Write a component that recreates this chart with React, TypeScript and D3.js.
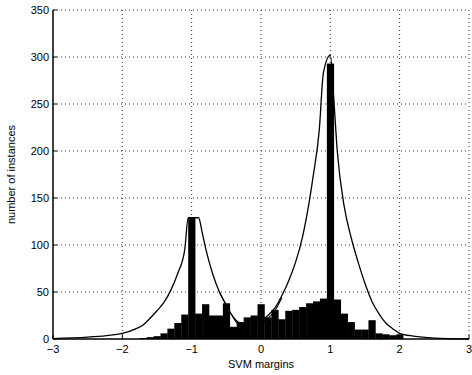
import React from "react";
import * as d3 from "d3";

const binCenters = [-1.7, -1.6, -1.5, -1.4, -1.3, -1.2, -1.1, -1.0, -0.9, -0.8, -0.7, -0.6, -0.5, -0.4, -0.3, -0.2, -0.1, 0.0, 0.1, 0.2, 0.3, 0.4, 0.5, 0.6, 0.7, 0.8, 0.9, 1.0, 1.1, 1.2, 1.3, 1.4, 1.5, 1.6, 1.7, 1.8, 1.9, 2.0];
const binCounts = [1, 2, 3, 6, 11, 17, 26, 129, 27, 37, 25, 25, 38, 13, 18, 23, 25, 37, 23, 31, 21, 30, 31, 34, 38, 40, 43, 293, 42, 27, 18, 10, 10, 20, 6, 5, 4, 5];

const totalX = [-3, -2.5, -2, -1.8, -1.7, -1.6, -1.5, -1.4, -1.3, -1.2, -1.1, -1.05, -0.9, -0.85, -0.8, -0.7, -0.6, -0.5, -0.45, -0.3, -0.2, -0.1, 0, 0.05, 0.1, 0.2, 0.3, 0.4, 0.5, 0.6, 0.7, 0.75, 0.84, 0.9, 1.0, 1.05, 1.1, 1.2, 1.3, 1.4, 1.5, 1.6, 1.7, 1.8, 1.9, 2.0, 2.2, 2.5, 3.0];
const totalY = [0.5, 2, 6, 11, 15, 22, 30, 39, 52, 70, 95, 129, 129, 114, 97, 70, 50, 36, 29, 17, 16, 17, 19, 22, 25, 33, 46, 62, 82, 109, 148, 172, 222, 283, 302, 255, 200, 141, 108, 82, 59, 40, 27, 17, 11, 6, 3, 1, 0];

const leftCompX = [-0.6, -0.45, -0.3, -0.2, -0.1, 0.0];
const leftCompY = [50, 29, 13, 10, 8, 6];
const rightCompX = [0.0, 0.05, 0.1, 0.2, 0.3];
const rightCompY = [12, 19, 22, 30, 44];

const xTicks = [-3, -2, -1, 0, 1, 2, 3];
const yTicks = [0, 50, 100, 150, 200, 250, 300, 350];

const W = 472;
const H = 375;
const margin = { left: 53, right: 3, top: 10, bottom: 36 };

export default function App() {
  const x = d3.scaleLinear().domain([-3, 3]).range([margin.left, W - margin.right]);
  const y = d3.scaleLinear().domain([0, 350]).range([H - margin.bottom, margin.top]);
  const binW = 0.1;
  const line = d3
    .line<[number, number]>()
    .x((d) => x(d[0]))
    .y((d) => y(d[1]))
    .curve(d3.curveMonotoneX);
  const totalPts = totalX.map((v, i) => [v, totalY[i]] as [number, number]);
  const leftPts = leftCompX.map((v, i) => [v, leftCompY[i]] as [number, number]);
  const rightPts = rightCompX.map((v, i) => [v, rightCompY[i]] as [number, number]);
  const font = "Liberation Sans, Arial, Helvetica, sans-serif";
  const x0 = x(-3), x1 = x(3), y0 = y(0), y1 = y(350);

  return (
    <svg width={W} height={H} style={{ position: "absolute", left: 0, top: 0, background: "#fff" }}>
      <rect x={0} y={0} width={W} height={H} fill="#fff" />
      {xTicks.filter((t) => t > -3).map((t) => (
        <line key={"gx" + t} x1={x(t)} x2={x(t)} y1={y0} y2={y1} stroke="#333" strokeWidth={1} strokeDasharray="1,3" />
      ))}
      {yTicks.filter((t) => t > 0).map((t) => (
        <line key={"gy" + t} x1={x0} x2={x1} y1={y(t)} y2={y(t)} stroke="#333" strokeWidth={1} strokeDasharray="1,3" />
      ))}
      <path d={line(totalPts) || ""} fill="none" stroke="#000" strokeWidth={1.3} />
      <path d={line(leftPts) || ""} fill="none" stroke="#000" strokeWidth={1.1} />
      <path d={line(rightPts) || ""} fill="none" stroke="#000" strokeWidth={1.1} />
      {binCenters.map((c, i) => (
        <rect
          key={"b" + i}
          x={x(c - binW / 2)}
          width={x(c + binW / 2) - x(c - binW / 2) + 0.3}
          y={y(binCounts[i])}
          height={y0 - y(binCounts[i])}
          fill="#000"
        />
      ))}
      <line x1={x0} x2={x1} y1={y0} y2={y0} stroke="#000" strokeWidth={1.5} />
      <line x1={x0} x2={x0} y1={y0} y2={y1} stroke="#000" strokeWidth={1.5} />
      {xTicks.map((t) => (
        <line key={"tx" + t} x1={x(t)} x2={x(t)} y1={y0} y2={y0 - 4} stroke="#000" strokeWidth={1} />
      ))}
      {yTicks.map((t) => (
        <line key={"ty" + t} x1={x0} x2={x0 + 4} y1={y(t)} y2={y(t)} stroke="#000" strokeWidth={1} />
      ))}
      {xTicks.map((t) => (
        <text key={"lx" + t} x={x(t)} y={y0 + 14} textAnchor="middle" fontFamily={font} fontSize={11} fill="#000">
          {t < 0 ? "\u2212" + Math.abs(t) : String(t)}
        </text>
      ))}
      {yTicks.map((t) => (
        <text key={"ly" + t} x={x0 - 4} y={y(t) + 4} textAnchor="end" fontFamily={font} fontSize={11} fill="#000">
          {t}
        </text>
      ))}
      <text x={x(0)} y={H - 7} textAnchor="middle" fontFamily={font} fontSize={11} fill="#000">
        SVM margins
      </text>
      <text
        transform={`translate(15, ${(y0 + y1) / 2}) rotate(-90)`}
        textAnchor="middle"
        fontFamily={font}
        fontSize={11}
        fill="#000"
      >
        number of instances
      </text>
    </svg>
  );
}
